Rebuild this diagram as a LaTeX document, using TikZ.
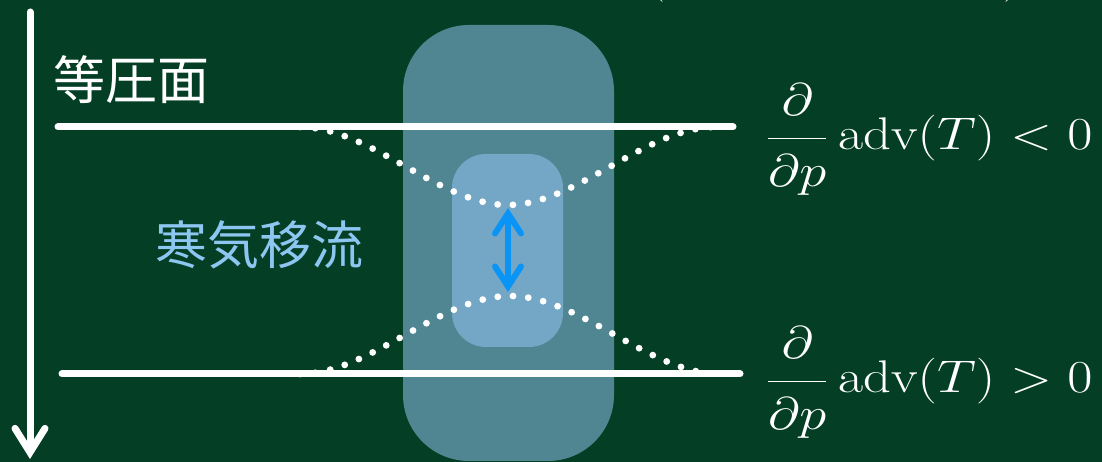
\documentclass[tikz,border=0pt]{standalone}
\usepackage{fontspec}
\newfontfamily\jpfont{Noto Sans CJK JP}
\usetikzlibrary{arrows.meta}
\definecolor{board}{RGB}{3,62,37}
\definecolor{outerbox}{RGB}{79,134,146}
\definecolor{innerbox}{RGB}{116,167,198}
\definecolor{coldtext}{RGB}{141,198,240}
\definecolor{arrowblue}{RGB}{10,148,245}
\newcommand{\dpfrac}{\frac{\partial\rule[-0.45em]{0pt}{0.5em}}{\rule{0pt}{1.0em}\partial p}}
\tikzset{
  isobar/.style={white,line width=7pt,line cap=round},
  dotcurve/.style={white,line width=6.8pt,line cap=round,dash pattern=on 0pt off 15.3pt},
  axisarrow/.style={white,line width=7pt,line cap=round,-{Straight Barb[length=24pt,width=30pt,line cap=round]}},
  bluearrow/.style={arrowblue,line width=6pt,line cap=round,{Straight Barb[length=20pt,width=26pt,line cap=round]}-{Straight Barb[length=20pt,width=26pt,line cap=round]}},
  jplabel/.style={inner sep=0pt,font=\jpfont\fontsize{52}{60}\selectfont},
  mathlabel/.style={inner sep=0pt,white,font=\Huge,xscale=2.2,yscale=1.84,transform shape},
  fraglabel/.style={inner sep=0pt,white,font=\Huge,scale=1.89,transform shape},
}
\begin{document}
\begin{tikzpicture}[x=1pt,y=1pt]
\useasboundingbox (0,0) rectangle (1102,462);
\fill[board] (0,0) rectangle (1102,462);
% shaded columns
\fill[outerbox,rounded corners=66pt] (403,1) rectangle (614,437);
\fill[innerbox,rounded corners=34pt] (452,115) rectangle (563,308);
% coordinates
\coordinate (axtop) at (30,450);
\coordinate (axbot) at (30,3);
\coordinate (u1) at (58,335);
\coordinate (u2) at (733,335);
\coordinate (l1) at (62,88);
\coordinate (l2) at (740,88);
\coordinate (cu0) at (300,335);
\coordinate (cu1) at (508,257);
\coordinate (cu2) at (716,335);
\coordinate (cl0) at (300,88);
\coordinate (cl1) at (510,166);
\coordinate (cl2) at (720,88);
\coordinate (ba) at (508,254);
\coordinate (bb) at (508,170);
% axis arrow
\draw[axisarrow] (axtop) -- (axbot);
% isobars
\draw[isobar] (u1) -- (u2);
\draw[isobar] (l1) -- (l2);
% dotted deformed isobars
\draw[dotcurve] (cu0) .. controls (370,335) and (440,257) .. (cu1)
  .. controls (576,257) and (646,335) .. (cu2);
\draw[dotcurve] (cl0) .. controls (370,88) and (440,166) .. (cl1)
  .. controls (580,166) and (650,88) .. (cl2);
% blue double arrow
\draw[bluearrow] (ba) -- (bb);
% labels
\node[jplabel,white,anchor=west] (iso) at (53,382) {等圧面};
\node[jplabel,coldtext,anchor=west] (cold) at (155,217) {寒気移流};
\node[mathlabel,anchor=base west] (ftop) at (765,312) {$\displaystyle\dpfrac\,\mathrm{adv}(T) < 0$};
\node[mathlabel,anchor=base west] (fbot) at (765,69) {$\displaystyle\dpfrac\,\mathrm{adv}(T) > 0$};
% fragments of cut-off text at the top
\node[fraglabel,anchor=base west] (fr1) at (648,471) {$($};
\node[fraglabel,anchor=base west] (fr2) at (710,475) {$[$};
\node[fraglabel,anchor=base west] (fr3) at (1003,471) {$)$};
\end{tikzpicture}
\end{document}
